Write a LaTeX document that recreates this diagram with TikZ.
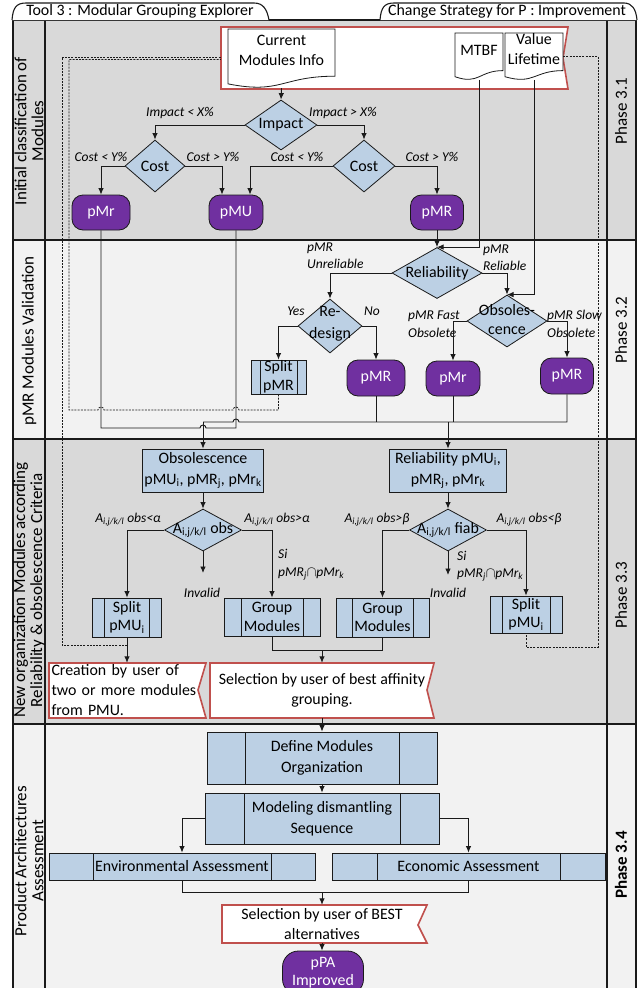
\documentclass[tikz,border=0pt]{standalone}
\usepackage{fontspec}
\setmainfont{Carlito}
\usetikzlibrary{shapes.geometric,arrows.meta,calc}
\definecolor{lc}{HTML}{1A1A1A}
\definecolor{gA}{HTML}{D9D9D9}
\definecolor{gB}{HTML}{F2F2F2}
\definecolor{bl}{HTML}{BCD0E4}
\definecolor{pu}{HTML}{7030A0}
\definecolor{rd}{HTML}{C0504D}
\newcommand\myfs{\fontsize{15.9}{20}\selectfont}
\newcommand\myft{\fontsize{15.9}{18.5}\selectfont}
\newcommand\myfi{\fontsize{13.5}{17.5}\selectfont\itshape}
\newcommand\myfl{\fontsize{17}{17}\selectfont}
\newcommand\mydoc[4]{\draw[docst] (#1,#2) -- (#3,#2) -- (#3,{#2+0.8*(#4-#2)}) .. controls ({0.5*(#1+#3)},{#2+0.8*(#4-#2)}) and ({0.5*(#1+#3)},{#2+1.11*(#4-#2)}) .. (#1,{#2+0.93*(#4-#2)}) -- cycle;}
\begin{document}
\begin{tikzpicture}[x=1pt,y=-1pt,
  frm/.style={draw=lc,line width=1.1pt},
  cline/.style={draw=lc,line width=0.9pt},
  carr/.style={cline,-{Latex[length=6.5pt,width=5.5pt]}},
  dsh/.style={draw=lc,line width=0.8pt,dash pattern=on 2pt off 1.2pt},
  dia/.style={diamond,draw=lc,fill=bl,line width=0.8pt,inner sep=0pt},
  dtxt/.style={font=\myfs,inner sep=0pt,align=center},
  pur/.style={rectangle,rounded corners=11pt,draw=lc,line width=0.8pt,fill=pu,text=white,font=\myfs,inner sep=0pt,align=center},
  bbox/.style={rectangle,draw=lc,fill=bl,line width=0.8pt,font=\myfs,inner sep=0pt,align=center},
  proc/.style={bbox,path picture={\draw[lc,line width=0.8pt] ([xshift=#1]path picture bounding box.north west) -- ([xshift=#1]path picture bounding box.south west) ([xshift=-#1]path picture bounding box.north east) -- ([xshift=-#1]path picture bounding box.south east);}},
  lbl/.style={font=\myfi,inner sep=0pt,align=left},
  flagst/.style={fill=white,draw=rd,line width=1.6pt},
  docst/.style={fill=white,draw=lc,line width=0.8pt},
  hid/.style={inner sep=0pt,draw=none}
]
\useasboundingbox (0,0) rectangle (639,988);
\fill[white] (0,0) rectangle (639,988);
% lanes
\fill[gA] (13,20) rectangle (636,240);
\fill[gB] (13,240) rectangle (636,439);
\fill[gA] (13,439) rectangle (636,724);
\fill[gB] (13,724) rectangle (636,1000);
\draw[frm] (13,20) -- (13,1000) (45,20) -- (45,1000) (607,20) -- (607,1000) (636,20) -- (636,1000);
\draw[frm] (13,20) -- (636,20) (13,240) -- (636,240) (13,439) -- (636,439) (13,724) -- (636,724);
% tabs
\draw[frm,fill=white] (12,20) .. controls (13,8) and (16,3) .. (26,3) -- (254,3) .. controls (263,3) and (267,9) .. (269,20);
\node[font=\myfs,inner sep=0pt] (tab1) at (140,11.5) {Tool 3 : Modular Grouping Explorer};
\draw[frm,fill=white] (380,20) .. controls (381,8) and (384,3) .. (394,3) -- (624,3) .. controls (632,3) and (636,9) .. (637,20);
\node[font=\myfs,inner sep=0pt] (tab2) at (507,11.5) {Change Strategy for P : Improvement};
% lane labels
\node[rotate=90,font=\myfl,align=center] (ln1) at (29,131) {Initial classification of\\Modules};
\node[rotate=90,font=\myfl] (ln2) at (29,341) {pMR Modules Validation};
\begin{scope}
\clip (13,439) rectangle (45,724);
\node[rotate=90,font=\myfl,align=center] (ln3) at (29,590) {New organization Modules according\\Reliability \& obsolescence Criteria};
\end{scope}
\node[rotate=90,font=\myfl,align=center] (ln4) at (29,861) {Product Architectures\\Assessment};
\node[rotate=90,font=\myfl] (ph1) at (621,111) {Phase 3.1};
\node[rotate=90,font=\myfl] (ph2) at (621,330) {Phase 3.2};
\node[rotate=90,font=\myfl] (ph3) at (621,595) {Phase 3.3};
\node[rotate=90,font=\myfl\bfseries] (ph4) at (621,865) {Phase 3.4};

% ===== Phase 3.1
\draw[flagst] (221,27) -- (568,27) -- (563,58) -- (568,89) -- (221,89) -- cycle;
\node[hid,minimum width=347,minimum height=62] (ban) at (394.5,58) {};
\mydoc{228}{29}{335}{88}
\mydoc{455}{33}{503}{80}
\mydoc{505}{33}{563}{80}
\node[hid,minimum width=107,minimum height=59] (cmi) at (281.5,58.5) {};
\node[dtxt] (cmit) at (281.5,50.5) {Current\\Modules Info};
\node[hid,minimum width=48,minimum height=47] (mtbf) at (479,56.5) {};
\node[dtxt] (mtbft) at (479,50) {MTBF};
\node[hid,minimum width=58,minimum height=47] (vl) at (534,56.5) {};
\node[dtxt] (vlt) at (534,49.5) {Value\\Lifetime};

\node[dia,minimum width=72,minimum height=50] (imp) at (281,125) {};
\node[dtxt] at (imp) {Impact};
\node[dia,minimum width=60,minimum height=52] (cost1) at (155,166) {};
\node[dtxt] at (cost1) {Cost};
\node[dia,minimum width=62,minimum height=52] (cost2) at (364,166) {};
\node[dtxt] at (cost2) {Cost};
\node[pur,minimum width=58,minimum height=35] (pMr1) at (101,212.5) {pMr};
\node[pur,minimum width=54,minimum height=35] (pMU1) at (236,212.5) {pMU};
\node[pur,minimum width=53,minimum height=35] (pMR1) at (437,212.5) {pMR};

\node[lbl] at (180,113) {Impact < X\%};
\node[lbl] at (343,113) {Impact > X\%};
\node[lbl] at (101,157) {Cost < Y\%};
\node[lbl] at (213,157) {Cost > Y\%};
\node[lbl] at (297,157) {Cost < Y\%};
\node[lbl] at (432,157) {Cost > Y\%};

\draw[carr] (cmi.south) -- (imp.north);
\draw[carr] (imp.west) -| (cost1.north);
\draw[carr] (imp.east) -| (cost2.north);
\draw[carr] (cost1.west) -| (pMr1.north);
\draw[carr] (cost1.east) -| ([xshift=-14pt]pMU1.north);
\draw[carr] (cost2.west) -| ([xshift=14pt]pMU1.north);
\draw[carr] (cost2.east) -| (pMR1.north);

% ===== Phase 3.2
\node[dia,minimum width=90,minimum height=51] (rel) at (437,273) {};
\node[dtxt] at (rel) {Reliability};
\node[dia,minimum width=64,minimum height=54] (rd) at (330,326) {};
\node[dtxt,font=\fontsize{15.9}{22}\selectfont] at (330,324) {Re-\\design};
\node[dia,minimum width=80,minimum height=52] (obs) at (507,321) {};
\node[dtxt,font=\fontsize{15.9}{19}\selectfont] at (507,320) {Obsoles-\\cence};
\node[proc=9pt,minimum width=55,minimum height=34,font=\myft] (splitR) at (278.5,377) {Split\\pMR};
\node[pur,minimum width=58,minimum height=36] (pMR2) at (376,378) {pMR};
\node[pur,minimum width=54,minimum height=35] (pMr2) at (453,378.5) {pMr};
\node[pur,minimum width=53,minimum height=36] (pMR3) at (567,376) {pMR};

\node[lbl,anchor=west] at (307,255.5) {pMR\\Unreliable};
\node[lbl,anchor=west] at (483,257.5) {pMR\\Reliable};
\node[lbl] at (296,311) {Yes};
\node[lbl] at (372,311) {No};
\node[lbl,anchor=west] at (408,324) {pMR Fast\\Obsolete};
\node[lbl,anchor=west] at (547,324) {pMR Slow\\Obsolete};

\draw[carr] (pMR1.south) -- (rel.north);
\draw[carr] (mtbf.south) |- (rel.north);
\draw[carr] (rel.west) -| (rd.north);
\draw[carr] (rel.east) -| (obs.north);
\draw[carr] (vl.south) |- (obs.north);
\draw[carr] (rd.west) -| (splitR.north);
\draw[carr] (rd.east) -| (pMR2.north);
\draw[carr] (obs.west) -| (pMr2.north);
\draw[carr] (obs.east) -| (pMR3.north);

% ===== Phase 3.3 nodes
\node[bbox,minimum width=121,minimum height=43,font=\fontsize{15.9}{21}\selectfont] (obsbox) at (203,470.5) {Obsolescence\\pMU\textsubscript{i}, pMR\textsubscript{j}, pMr\textsubscript{k}};
\node[bbox,minimum width=117,minimum height=43,font=\fontsize{15.9}{21}\selectfont] (relbox) at (448,470.5) {Reliability pMU\textsubscript{i},\\pMR\textsubscript{j}, pMr\textsubscript{k}};
\node[dia,minimum width=77,minimum height=42] (aobs) at (203,530) {};
\node[dtxt] at (aobs) {A\textsubscript{i,j/k/l} obs};
\node[dia,minimum width=77,minimum height=42] (afiab) at (448,530) {};
\node[dtxt] at (afiab) {A\textsubscript{i,j/k/l} fiab};
\node[proc=12pt,minimum width=69,minimum height=39,font=\myft] (splitU1) at (127,617.5) {Split\\pMU\textsubscript{i}};
\node[proc=17pt,minimum width=96,minimum height=38,font=\myft] (grp1) at (272,617) {Group\\Modules};
\node[proc=16pt,minimum width=93,minimum height=39,font=\myft] (grp2) at (382.5,617.5) {Group\\Modules};
\node[proc=12pt,minimum width=72,minimum height=37,font=\myft] (splitU2) at (526,614.5) {Split\\pMU\textsubscript{i}};
\coordinate (inv1) at (203,573);
\coordinate (inv2) at (448,575);

\node[lbl] at (128,520) {A\textsubscript{i,j/k/l} obs<α};
\node[lbl] at (277,520) {A\textsubscript{i,j/k/l} obs>α};
\node[lbl] at (377,520) {A\textsubscript{i,j/k/l} obs>β};
\node[lbl] at (529,520) {A\textsubscript{i,j/k/l} obs<β};
\node[lbl,anchor=west] at (278,564.5) {Si\\pMR\textsubscript{j}$\cap$pMr\textsubscript{k}};
\node[lbl,anchor=west] at (457,566) {Si\\pMR\textsubscript{j}$\cap$pMr\textsubscript{k}};
\node[lbl] at (202,593) {Invalid};
\node[lbl] at (448,593) {Invalid};

% flags 3.3
\draw[flagst] (49,663) -- (206,663) -- (198,690) -- (206,718) -- (49,718) -- cycle;
\node[hid,minimum width=157,minimum height=55,text width=151pt,align=left,font=\myfs] (cre) at (127,690.5) {Creation by user of\\two or more modules\\from PMU.};
\draw[flagst] (210,663) -- (434,663) -- (427,690) -- (434,718) -- (210,718) -- cycle;
\node[hid,minimum width=224,minimum height=55,align=center,font=\myfs] (sel1) at (322,690.5) {Selection by user of best affinity\\grouping.};

% connectors 3.2 -> 3.3
\coordinate (jA) at (203,422);
\draw[cline] (pMR3.south) |- (239,422) arc[start angle=0,end angle=180,radius=3pt] -- (jA);
\draw[cline] (pMR2.south) -- (pMR2.south |- jA);
\draw[cline] (pMr2.south) -- (pMr2.south |- jA);
\draw[carr] (relbox.north |- jA) -- (relbox.north);
\draw[carr] (jA) -- (obsbox.north);
\draw[cline] (pMr1.south) |- (200,428) arc[start angle=180,end angle=0,radius=3pt] -- (pMU1.south |- 0,428) -- (pMU1.south);
% dashed feedback
\draw[dsh] (splitR.south) -- (splitR.south |- 0,410) -- (239,410) arc[start angle=0,end angle=180,radius=3pt] -- (104,410) arc[start angle=0,end angle=180,radius=3pt] -- (69,410) -- (69,59.5) -- (ban.west |- 0,59.5);
\draw[dsh] (splitU1.south |- 0,645) -- (62,645) -- (62,57) -- (ban.west |- 0,57);
\draw[dsh] (vl.east) -| (598,647) -| (splitU2.south);

% connectors 3.3
\draw[carr] (obsbox.south) -- (aobs.north);
\draw[carr] (relbox.south) -- (afiab.north);
\draw[carr] (aobs.west) -| (splitU1.north);
\draw[carr] (aobs.east) -| (grp1.north);
\draw[carr] (aobs.south) -- (inv1);
\draw[carr] (afiab.west) -| (grp2.north);
\draw[carr] (afiab.east) -| (splitU2.north);
\draw[carr] (afiab.south) -- (inv2);
\coordinate (j1) at (322,650);
\draw[cline] (grp1.south) |- (j1);
\draw[cline] (grp2.south) |- (j1);
\draw[carr] (j1) -- (sel1.north);
\draw[carr] (splitU1.south) -- (cre.north);

% ===== Phase 3.4
\node[proc=38pt,minimum width=230,minimum height=52,font=\fontsize{15.9}{21}\selectfont] (dmo) at (322,758) {Define Modules\\Organization};
\node[proc=39pt,minimum width=234,minimum height=51,font=\fontsize{15.9}{21}\selectfont] (mds) at (322,818.5) {Modeling dismantling\\Sequence};
\node[proc=44pt,minimum width=266,minimum height=27] (env) at (182,866.5) {Environmental Assessment};
\node[proc=45pt,minimum width=273,minimum height=27] (eco) at (468.5,866.5) {Economic Assessment};
\draw[flagst] (222,905) -- (427,905) -- (418,925) -- (427,943) -- (222,943) -- cycle;
\node[hid,minimum width=200,minimum height=38,align=center,font=\myfs] (best) at (322,924) {Selection by user of BEST\\alternatives};
\node[pur,minimum width=81,minimum height=44,rounded corners=16pt,font=\fontsize{15.9}{18}\selectfont] (ppa) at (323,973) {pPA\\Improved};

\draw[carr] (sel1.south) -- (dmo.north);
\draw[carr] (dmo.south) -- (mds.north);
\draw[carr] (mds.west) -| (env.north);
\draw[carr] (mds.east) -| (eco.north);
\coordinate (j2) at (322,892);
\draw[cline] (env.south) |- (j2);
\draw[cline] (eco.south) |- (j2);
\draw[carr] (j2) -- (j2 |- best.north);
\draw[carr] (best.south) -- (best.south |- ppa.north);
\end{tikzpicture}
\end{document}
